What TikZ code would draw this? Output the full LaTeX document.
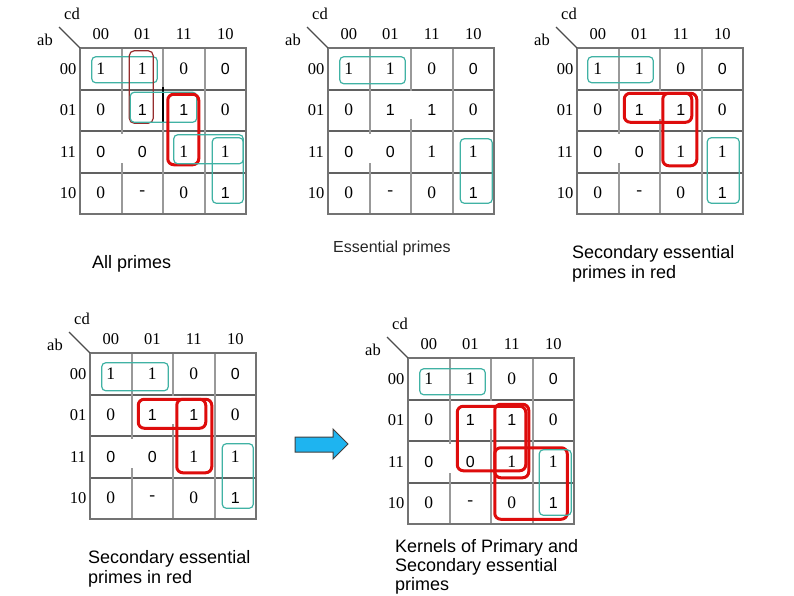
\documentclass[tikz,border=0pt]{standalone}
\usepackage{fontspec}
\setmainfont{Liberation Serif}
\newfontfamily\arialfont{Liberation Sans}
\usetikzlibrary{matrix}
\definecolor{primecol}{RGB}{64,178,164}
\definecolor{seccol}{RGB}{222,12,12}
\definecolor{oldcol}{RGB}{150,45,45}
\definecolor{arrowcol}{RGB}{30,180,240}
\tikzset{
  kmap/.style={matrix of nodes, ampersand replacement=\&, inner sep=0pt, outer sep=0pt,
    column sep=0pt, row sep=0pt,
    nodes={minimum width=41.5pt, minimum height=41.5pt, inner sep=0pt, outer sep=0pt,
      anchor=center, font=\fontsize{17.5}{17.5}\selectfont}},
  ar/.style={font=\arialfont\fontsize{16}{16}\selectfont},
  hdr/.style={font=\fontsize{16.5}{16.5}\selectfont, inner sep=0pt},
  hline/.style={line width=2pt, black!62},
  vline/.style={line width=2pt, black!40},
  frame/.style={line width=2pt, black!55},
  diag/.style={line width=1.2pt, black!70},
  prime/.style={rounded corners=4pt, line width=1.2pt, draw=primecol},
  secprime/.style={rounded corners=6pt, line width=3pt, draw=seccol},
  oldprime/.style={rounded corners=5pt, line width=1.2pt, draw=oldcol},
  caption/.style={font=\arialfont\fontsize{18}{20.5}\selectfont, align=left, inner sep=0pt},
}
% one karnaugh map: name, left, top
\newcommand{\kmap}[3]{%
  \matrix[kmap] (#1) at (#2+83,#3+83) {
    1 \& 1 \& 0 \& |[ar]| 0 \\
    0 \& |[ar]| 1 \& |[ar]| 1 \& 0 \\
    |[ar]| 0 \& |[ar]| 0 \& 1 \& 1 \\
    0 \& - \& 0 \& |[ar]| 1 \\
  };
  \foreach \kr in {1,2,3} \draw[hline] (#1-\kr-1.south west) -- (#1-\kr-4.south east);
  \foreach \kc in {1,2,3} \draw[vline] (#1-1-\kc.north east) -- (#1-4-\kc.south east);
  %pasted digits hide the grid
  \fill[white] (#2+40,#3+86) rectangle (#2+43,#3+115);
  \fill[white] (#2+81.5,#3+43) rectangle (#2+84.5,#3+71);
  \draw[frame] (#1-1-1.north west) rectangle (#1-4-4.south east);
  \draw[diag] (#1-1-1.north west) -- ++(-21,-21);
  \node[hdr] (#1-cd) at ([shift={(-8,-34)}]#1-1-1.north west) {cd};
  \node[hdr] (#1-ab) at ([shift={(-35,-8)}]#1-1-1.north west) {ab};
  \foreach \kc/\kt in {1/00,2/01,3/11,4/10}
    \node[hdr] (#1-c\kc) at ([yshift=13.5pt]#1-1-\kc.north) {\kt};
  \foreach \kr/\kt in {1/00,2/01,3/11,4/10}
    \node[hdr] (#1-r\kr) at ([xshift=-12pt]#1-\kr-1.west) {\kt};
}

\begin{document}
\begin{tikzpicture}[x=1pt,y=-1pt]
  \fill[white] (0,0) rectangle (794,595);
  \useasboundingbox (0,0) rectangle (794,595);

  \kmap{m1}{80}{48}
  \kmap{m2}{328}{48}
  \kmap{m3}{577}{48}
  \kmap{m4}{90}{353}
  \kmap{m5}{408}{358}

  %all primes
  \draw[black, line width=1.2pt] (163,87) -- (163,122);
  \draw[prime] ([shift={(-9,-12)}]m1-1-1.center) rectangle ([shift={(15,14)}]m1-1-2.center);
  \draw[oldprime] ([shift={(-13,-18)}]m1-1-2.center) rectangle ([shift={(11,13)}]m1-2-2.center);
  \draw[prime] ([shift={(-12,-18)}]m1-2-2.center) rectangle ([shift={(13,12)}]m1-2-3.center);
  \draw[secprime] ([shift={(-16,-16)}]m1-2-3.center) rectangle ([shift={(15,13)}]m1-3-3.center);
  \draw[prime] ([shift={(-10,-17)}]m1-3-3.center) rectangle ([shift={(18,12)}]m1-3-4.center);
  \draw[prime] ([shift={(-13,-14)}]m1-3-4.center) rectangle ([shift={(18,10)}]m1-4-4.center);

  %essential primes
  \draw[prime] ([shift={(-9,-12)}]m2-1-1.center) rectangle ([shift={(15,15)}]m2-1-2.center);
  \draw[prime] ([shift={(-13,-13)}]m2-3-4.center) rectangle ([shift={(19,10)}]m2-4-4.center);

  %secondary essential primes
  \draw[prime] ([shift={(-10,-12)}]m3-1-1.center) rectangle ([shift={(14,14)}]m3-1-2.center);
  \draw[secprime] ([shift={(-15,-17)}]m3-2-2.center) rectangle ([shift={(11,12)}]m3-2-3.center);
  \draw[secprime] ([shift={(-18,-17)}]m3-2-3.center) rectangle ([shift={(16,14)}]m3-3-3.center);
  \draw[prime] ([shift={(-15,-14)}]m3-3-4.center) rectangle ([shift={(17,10)}]m3-4-4.center);

  \draw[prime] ([shift={(-9,-11)}]m4-1-1.center) rectangle ([shift={(16,17)}]m4-1-2.center);
  \draw[secprime] ([shift={(-14,-16)}]m4-2-2.center) rectangle ([shift={(12,13)}]m4-2-3.center);
  \draw[secprime] ([shift={(-17,-16)}]m4-2-3.center) rectangle ([shift={(18,16)}]m4-3-3.center);
  \draw[prime] ([shift={(-13,-13)}]m4-3-4.center) rectangle ([shift={(18,10)}]m4-4-4.center);

  %kernels
  \draw[prime] ([shift={(-9,-10)}]m5-1-1.center) rectangle ([shift={(15,16)}]m5-1-2.center);
  \draw[secprime] ([shift={(-13,-14)}]m5-2-2.center) rectangle ([shift={(14,9)}]m5-3-3.center);
  \draw[secprime] ([shift={(-17,-16)}]m5-2-3.center) rectangle ([shift={(17,16)}]m5-3-3.center);
  \draw[secprime] ([shift={(-17,-14)}]m5-3-3.center) rectangle ([shift={(14,16)}]m5-4-4.center);
  \draw[prime] ([shift={(-14,-12)}]m5-3-4.center) rectangle ([shift={(18,12)}]m5-4-4.center);

  %fancy blue arrow
  \filldraw[fill=arrowcol, draw=black!75, line width=1pt]
    (295,437) -- (333,437) -- (333,429) -- (348,444) -- (333,459) -- (333,452) -- (295,452) -- cycle;

  \node[caption, anchor=base west] (capa) at (92,268) {All primes};
  \node[caption, anchor=base west, font=\arialfont\fontsize{16}{16}\selectfont, text=black!85] (capb) at (333,252) {Essential primes};
  \node[caption, anchor=north west] (capc) at (572,245) {Secondary essential\\primes in red};
  \node[caption, anchor=north west] (capd) at (88,550) {Secondary essential\\primes in red};
  \node[caption, anchor=north west, font=\arialfont\fontsize{18}{19}\selectfont] (cape) at (395,539) {Kernels of Primary and\\Secondary essential\\primes};
\end{tikzpicture}
\end{document}
